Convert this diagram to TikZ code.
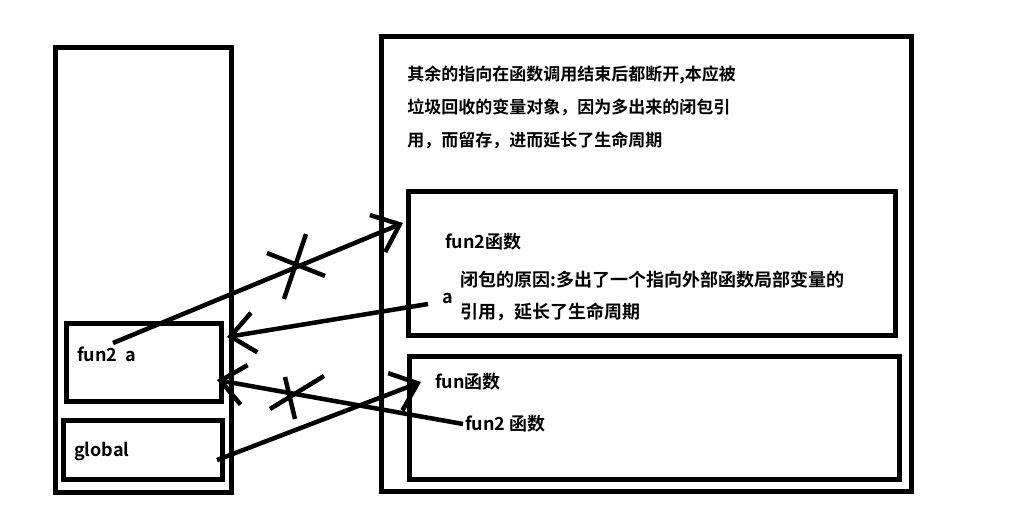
\documentclass[tikz,border=0pt]{standalone}
\usepackage{fontspec}
\setmainfont{Noto Sans CJK SC Bold}
\usetikzlibrary{arrows.meta}

\begin{document}
\begin{tikzpicture}[x=1pt,y=-1pt,line width=4.5pt,
  box/.style={draw,line width=4.5pt,inner sep=0pt,anchor=north west},
  lbl/.style={anchor=west,inner sep=0pt,font=\fontsize{18pt}{20pt}\selectfont},
  note/.style={anchor=west,inner sep=0pt,font=\fontsize{17pt}{20pt}\selectfont},
  ptr/.style={line width=4.5pt,-{Straight Barb[length=24pt,width=40pt]}},
  cutmark/.style={line width=4.5pt}]%
\useasboundingbox (0,0) rectangle (1021,509);
% stack
\node [box,minimum width=176pt,minimum height=445pt] (stack)       at (53,45)  {};
\node [box,minimum width=155pt,minimum height=78pt]  (stackfun2)   at (64,321) {};
\node [box,minimum width=159pt,minimum height=59pt]  (stackglobal) at (61,418) {};
\node [lbl] (txfun2)   at (75,354) {fun2\ \ a};
\node [lbl] (txglobal) at (72,451) {global};
% heap
\node [box,minimum width=530pt,minimum height=455pt] (heap)     at (379,34)  {};
\node [box,minimum width=487pt,minimum height=144pt] (heapfun2) at (406,189) {};
\node [box,minimum width=490pt,minimum height=123pt] (heapfun)  at (407,354) {};
\node [note] (note1) at (405,75)  {其余的指向在函数调用结束后都断开,本应被};
\node [note] (note2) at (405,107) {垃圾回收的变量对象，因为多出来的闭包引};
\node [note] (note3) at (405,140) {用，而留存，进而延长了生命周期};
\node [lbl] (txheapfun2) at (443,242) {fun2函数};
\node [lbl] (txreason1)  at (458,280) {闭包的原因:多出了一个指向外部函数局部变量的};
\node [lbl] (txa)        at (440,298) {a};
\node [lbl] (txreason2)  at (458,312) {引用，延长了生命周期};
\node [lbl] (txfun)      at (433,382) {fun函数};
\node [lbl] (txfun2ref)  at (463,424) {fun2 函数};
% pointers
\coordinate (p1s) at (113,343); \coordinate (p1e) at (403,223);
\coordinate (p2s) at (428,304); \coordinate (p2e) at (227,337);
\coordinate (p3e) at (217,380);
\coordinate (p4s) at (217,460); \coordinate (p4e) at (421,382);
\draw [ptr] (p1s) -- (p1e);
\draw [ptr] (p2s) -- (p2e);
\draw [ptr] (txfun2ref.west) -- (p3e);
\draw [ptr] (p4s) -- (p4e);
% cut marks
\coordinate (cut1) at (296,265);
\coordinate (cut2) at (292,395);
\draw [cutmark] (cut1) ++(-29,-12) -- ++(58,23);
\draw [cutmark] (cut1) ++(10,-31) -- ++(-22,65);
\draw [cutmark] (cut2) ++(-22,14) -- ++(54,-33);
\draw [cutmark] (cut2) ++(-7,-18) -- ++(10,42);
\end{tikzpicture}
\end{document}
